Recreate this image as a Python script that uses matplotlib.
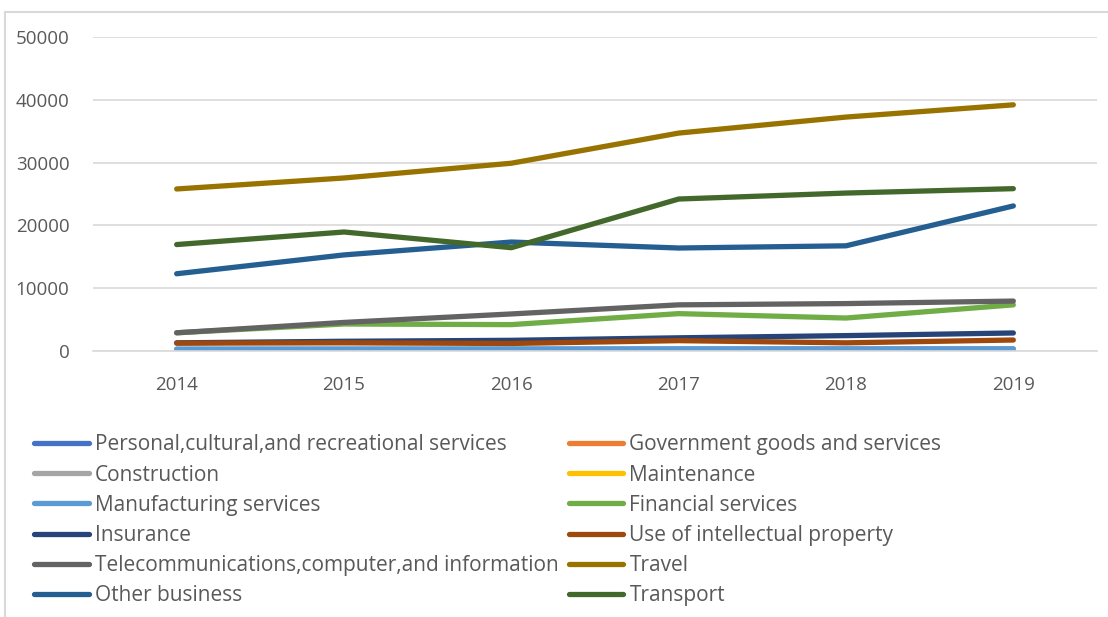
import matplotlib
matplotlib.use("Agg")
import matplotlib.pyplot as plt
from matplotlib.patches import Rectangle

plt.rcParams['font.family'] = ['Open Sans', 'DejaVu Sans']

years = ["2014", "2015", "2016", "2017", "2018", "2019"]

personal = [250, 260, 270, 300, 310, 320]
government = [200, 210, 220, 230, 240, 250]
construction = [150, 160, 170, 180, 190, 200]
maintenance = [100, 110, 120, 130, 140, 150]
manufacturing = [300, 310, 320, 330, 320, 320]
financial = [2900, 4300, 4200, 5950, 5250, 7350]
insurance = [1300, 1550, 1700, 2100, 2450, 2870]
intellectual_property = [1250, 1300, 1200, 1650, 1300, 1750]
telecom = [2900, 4550, 5900, 7350, 7550, 7950]
travel = [25800, 27550, 29900, 34700, 37250, 39200]
other_business = [12300, 15300, 17350, 16400, 16750, 23100]
transport = [16950, 18950, 16450, 24200, 25150, 25850]

series_names = [
    "Personal,cultural,and recreational services",
    "Government goods and services",
    "Construction",
    "Maintenance",
    "Manufacturing services",
    "Financial services",
    "Insurance",
    "Use of intellectual property",
    "Telecommunications,computer,and information",
    "Travel",
    "Other business",
    "Transport",
]
series_values = [
    personal, government, construction, maintenance, manufacturing,
    financial, insurance, intellectual_property, telecom, travel,
    other_business, transport,
]
series_colors = [
    "#4472C4", "#ED7D31", "#A5A5A5", "#FFC000", "#5B9BD5", "#70AD47",
    "#264478", "#9E480E", "#636363", "#997300", "#255E91", "#43682B",
]

fig = plt.figure(figsize=(11.08, 6.17), dpi=100)
fig.patch.set_facecolor("white")

# light chart-area frame
fig.add_artist(Rectangle((5 / 1108, -0.05), 1.2, 1 - 12 / 617 + 0.05,
                         transform=fig.transFigure, fill=False,
                         edgecolor="#D9D9D9", linewidth=1.5))

ax = fig.add_axes([93 / 1108, 1 - 351 / 617, (1097 - 93) / 1108, (351 - 37) / 617])
x = list(range(len(years)))
handles = []
for name, vals, col in zip(series_names, series_values, series_colors):
    h, = ax.plot(x, vals, color=col, linewidth=3.8, solid_capstyle="round",
                 solid_joinstyle="round", label=name)
    handles.append(h)

ax.set_xlim(-0.5, len(years) - 0.5)
ax.set_ylim(0, 50000)
ax.set_yticks([0, 10000, 20000, 30000, 40000, 50000])
ax.set_xticks(x)
ax.set_xticklabels(years)
ax.yaxis.grid(True, color="#D9D9D9", linewidth=1.2)
ax.set_axisbelow(True)
for side in ["top", "right", "left"]:
    ax.spines[side].set_visible(False)
ax.spines["bottom"].set_color("#D9D9D9")
ax.spines["bottom"].set_linewidth(1.2)
ax.tick_params(axis="both", length=0, labelsize=13.5, labelcolor="#595959")
ax.tick_params(axis="x", pad=18)
ax.tick_params(axis="y", pad=17)

order = [0, 2, 4, 6, 8, 10, 1, 3, 5, 7, 9, 11]
leg = fig.legend([handles[i] for i in order], [series_names[i] for i in order],
                 ncol=2, loc="upper left", bbox_to_anchor=(24 / 1108, 1 - 424 / 617),
                 frameon=False, fontsize=15, handlelength=2.6, handletextpad=0.3,
                 columnspacing=0.5, labelspacing=0.44, borderpad=0)
for t in leg.get_texts():
    t.set_color("#595959")

fig.savefig("out.png", dpi=100, facecolor="white")
